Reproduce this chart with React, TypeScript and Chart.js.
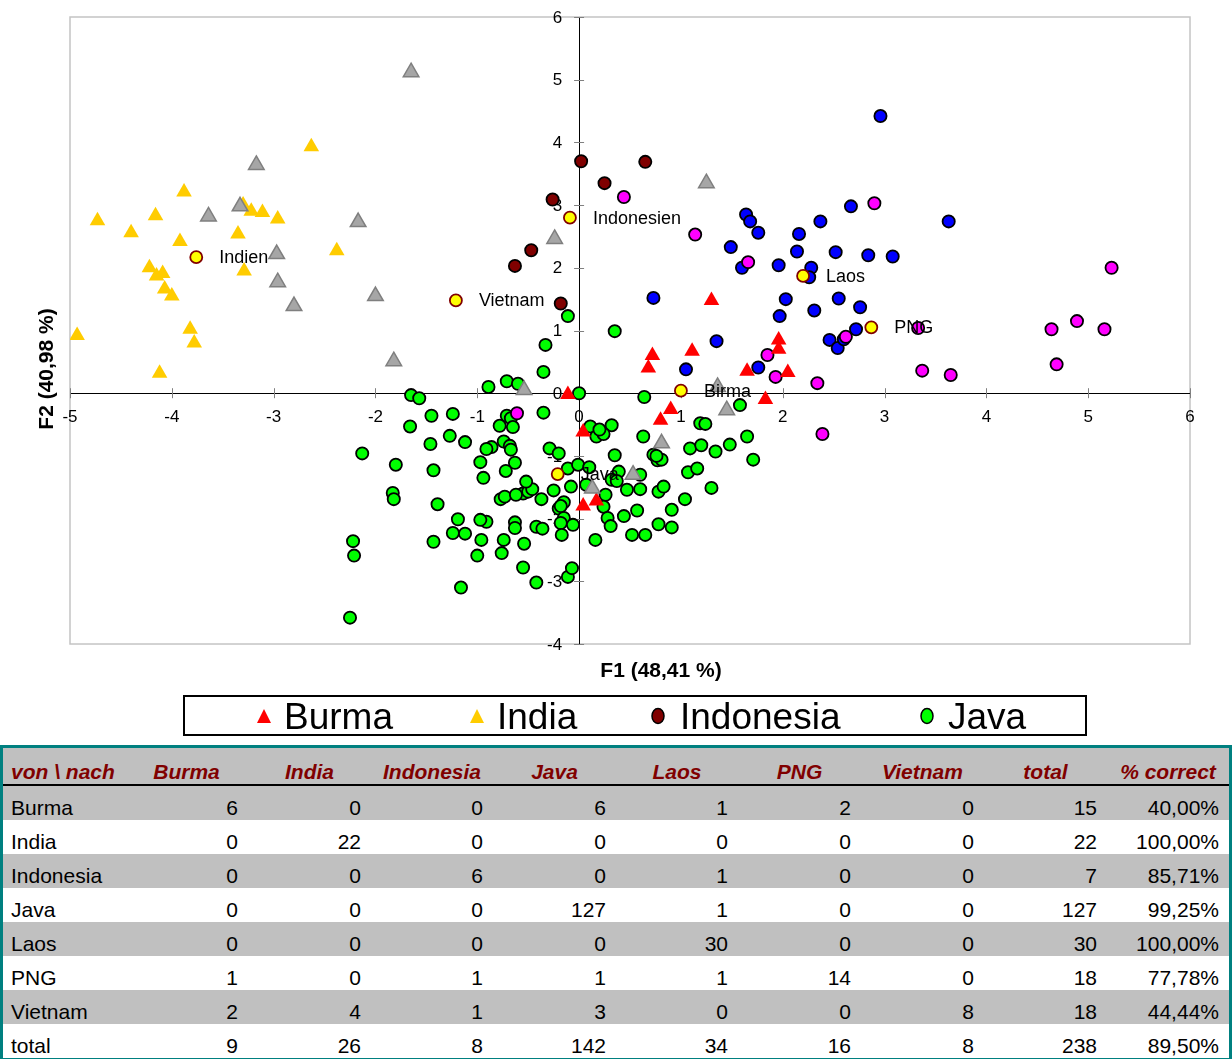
import React, { useEffect, useRef } from 'react';
import { Chart, registerables } from 'chart.js';

Chart.register(...registerables);

type Pt = [number, number];

const FONT = '"Liberation Sans", Arial, sans-serif';

// ---- scatter data (F1, F2) ----
const burma: Pt[] = [[1.30,1.48],[0.72,0.60],[0.68,0.40],[1.11,0.67],[1.96,0.85],[1.96,0.70],[1.65,0.35],[2.05,0.33],[1.83,-0.10],[0.90,-0.26],[0.80,-0.43],[-0.11,-0.02],[0.04,-0.62],[0.04,-1.80],[0.17,-1.72]];
const india: Pt[] = [[-2.63,3.93],[-3.88,3.21],[-4.73,2.75],[-4.16,2.83],[-4.40,2.56],[-3.92,2.42],[-3.35,2.54],[-3.30,3.00],[-3.22,2.90],[-3.11,2.88],[-2.96,2.78],[-2.38,2.27],[-3.29,1.95],[-4.22,2.00],[-4.15,1.87],[-4.09,1.91],[-4.07,1.66],[-4.00,1.55],[-4.93,0.92],[-3.82,1.02],[-3.78,0.80],[-4.12,0.32]];
const indonesia: Pt[] = [[0.02,3.70],[0.25,3.35],[-0.26,3.09],[-0.47,2.28],[-0.63,2.03],[-0.18,1.43],[0.65,3.69]];
const java: Pt[] = [[-0.33,0.77],[-0.35,0.34],[-0.71,0.19],[-0.60,0.15],[-0.89,0.10],[-1.65,-0.03],[-1.57,-0.08],[0.00,0.00],[0.64,-0.06],[-1.45,-0.36],[-1.24,-0.33],[-1.66,-0.53],[-0.35,-0.31],[-0.71,-0.36],[-0.67,-0.40],[-0.78,-0.52],[-0.65,-0.54],[-1.46,-0.81],[-1.27,-0.68],[-1.12,-0.78],[-0.74,-0.77],[-0.86,-0.86],[-0.91,-0.89],[-0.68,-0.84],[-0.67,-0.90],[-2.13,-0.96],[-1.80,-1.14],[-1.43,-1.23],[-0.97,-1.10],[-0.63,-1.11],[-0.94,-1.35],[-0.72,-1.24],[-0.29,-0.88],[-0.20,-0.96],[-0.11,-1.20],[-0.01,-1.14],[0.10,-1.18],[0.11,-0.53],[0.32,-0.51],[0.17,-0.69],[0.24,-0.65],[0.35,-0.99],[0.39,-1.25],[0.32,-1.38],[0.63,-0.69],[0.73,-0.98],[0.77,-1.07],[0.81,-1.06],[0.60,-1.30],[-1.83,-1.59],[-1.82,-1.69],[-1.39,-1.77],[-0.77,-1.69],[-0.73,-1.65],[-0.55,-1.60],[-0.50,-1.57],[-0.46,-1.53],[-0.52,-1.41],[-0.37,-1.69],[-0.25,-1.55],[-0.08,-1.49],[0.07,-1.46],[0.26,-1.62],[0.24,-1.81],[0.47,-1.54],[0.60,-1.53],[0.78,-1.57],[0.83,-1.49],[1.04,-1.69],[1.30,-1.51],[0.91,-1.86],[0.57,-1.87],[0.44,-1.96],[0.28,-1.99],[0.31,-2.12],[0.52,-2.26],[0.65,-2.26],[0.78,-2.09],[0.91,-2.14],[0.16,-2.34],[-0.15,-1.74],[-0.20,-1.84],[-0.15,-1.99],[-0.18,-2.07],[-0.06,-2.10],[-0.17,-2.26],[-0.42,-2.13],[-0.36,-2.16],[-0.63,-2.06],[-0.63,-2.15],[-0.91,-2.05],[-0.97,-2.02],[-1.19,-2.01],[-1.24,-2.23],[-1.12,-2.24],[-1.43,-2.37],[-0.96,-2.34],[-0.74,-2.34],[-0.54,-2.40],[-1.00,-2.59],[-0.76,-2.55],[-0.55,-2.78],[-0.42,-3.02],[-0.11,-2.93],[-0.07,-2.79],[-1.16,-3.10],[-2.22,-2.36],[-2.21,-2.59],[-2.25,-3.58],[1.19,-0.48],[1.24,-0.49],[1.09,-0.88],[1.20,-0.83],[1.34,-0.93],[1.48,-0.82],[1.65,-0.69],[1.71,-1.06],[1.07,-1.26],[1.16,-1.20],[1.58,-0.19],[-0.11,1.23],[0.35,0.99],[0.20,-0.58],[-0.62,-1.62],[0.37,-1.40],[0.76,-1.00],[-0.18,-1.80]];
const laos: Pt[] = [[2.96,4.42],[3.63,2.74],[2.67,2.98],[2.37,2.74],[1.64,2.85],[1.68,2.74],[1.76,2.56],[1.49,2.33],[2.16,2.54],[2.14,2.26],[2.52,2.25],[2.84,2.20],[3.08,2.18],[1.60,2.00],[1.96,2.04],[2.28,2.00],[2.26,1.85],[0.73,1.52],[2.03,1.50],[2.55,1.51],[2.31,1.32],[2.76,1.37],[1.97,1.23],[2.72,1.02],[2.46,0.85],[2.54,0.72],[1.35,0.83],[1.05,0.38],[1.76,0.41],[2.60,0.86]];
const png: Pt[] = [[0.44,3.13],[2.90,3.03],[1.14,2.53],[1.66,2.09],[5.23,2.00],[3.33,1.04],[2.62,0.90],[4.64,1.02],[4.89,1.15],[5.16,1.02],[1.85,0.61],[1.93,0.26],[2.34,0.16],[3.37,0.36],[3.65,0.29],[4.69,0.46],[2.39,-0.65],[-0.61,-0.32]];
const vietnam: Pt[] = [[-1.65,5.12],[-3.17,3.64],[-3.64,2.82],[-3.33,2.98],[-2.17,2.73],[-2.97,2.22],[-2.96,1.77],[-2.00,1.55],[-2.80,1.39],[-0.24,2.46],[-1.82,0.51],[-0.54,0.05],[1.45,-0.27],[1.36,0.10],[0.81,-0.80],[0.53,-1.30],[0.13,-1.52],[1.25,3.35]];
const centroidNames: string[] = ['Indien', 'Vietnam', 'Indonesien', 'Laos', 'PNG', 'Birma', 'Java'];
const centroids: Pt[] = [[-3.76,2.17],[-1.21,1.48],[-0.09,2.80],[2.20,1.87],[2.87,1.05],[1.00,0.04],[-0.21,-1.29]];

const xTickValues: number[] = [-5, -4, -3, -2, -1, 0, 1, 2, 3, 4, 5, 6];
const yTickValues: number[] = [-4, -3, -2, -1, 0, 1, 2, 3, 4, 5, 6];
const xTitle = 'F1 (48,41 %)';
const yTitle = 'F2 (40,98 %)';

const legendNames: string[] = ['Burma', 'India', 'Indonesia', 'Java'];

// ---- confusion table ----
const tableHeader: string[] = ['von \\ nach', 'Burma', 'India', 'Indonesia', 'Java', 'Laos', 'PNG', 'Vietnam', 'total', '% correct'];
const rowNames: string[] = ['Burma', 'India', 'Indonesia', 'Java', 'Laos', 'PNG', 'Vietnam', 'total'];
const rowBurma: number[] = [6, 0, 0, 6, 1, 2, 0, 15];
const rowIndia: number[] = [0, 22, 0, 0, 0, 0, 0, 22];
const rowIndonesia: number[] = [0, 0, 6, 0, 1, 0, 0, 7];
const rowJava: number[] = [0, 0, 0, 127, 1, 0, 0, 127];
const rowLaos: number[] = [0, 0, 0, 0, 30, 0, 0, 30];
const rowPNG: number[] = [1, 0, 1, 1, 1, 14, 0, 18];
const rowVietnam: number[] = [2, 4, 1, 3, 0, 0, 8, 18];
const rowTotal: number[] = [9, 26, 8, 142, 34, 16, 8, 238];
const pctCorrect: string[] = ['40,00%', '100,00%', '85,71%', '99,25%', '100,00%', '77,78%', '44,44%', '89,50%'];
const tableRows: number[][] = [rowBurma, rowIndia, rowIndonesia, rowJava, rowLaos, rowPNG, rowVietnam, rowTotal];

const colWidths = [122, 123, 123, 122, 123, 122, 123, 123, 123, 122];

const toXY = (a: Pt[]) => a.map(([x, y]) => ({ x, y }));

const overlayPlugin = {
  id: 'overlay',
  beforeDatasetsDraw(chart: any) {
    const { ctx, chartArea } = chart;
    const xs = chart.scales.x;
    const ys = chart.scales.y;
    const x0 = xs.getPixelForValue(0);
    const y0 = ys.getPixelForValue(0);
    ctx.save();
    ctx.strokeStyle = '#c4c4c4';
    ctx.lineWidth = 1.5;
    ctx.strokeRect(chartArea.left, chartArea.top, chartArea.right - chartArea.left, chartArea.bottom - chartArea.top);
    // axis lines
    ctx.strokeStyle = '#000';
    ctx.lineWidth = 1;
    ctx.beginPath();
    ctx.moveTo(chartArea.left, Math.round(y0) + 0.5);
    ctx.lineTo(chartArea.right, Math.round(y0) + 0.5);
    ctx.moveTo(Math.round(x0) + 0.5, chartArea.top);
    ctx.lineTo(Math.round(x0) + 0.5, chartArea.bottom);
    ctx.stroke();
    // crossing tick marks
    ctx.strokeStyle = '#808080';
    ctx.beginPath();
    xTickValues.forEach((v) => {
      const px = Math.round(xs.getPixelForValue(v)) + 0.5;
      ctx.moveTo(px, y0 - 5);
      ctx.lineTo(px, y0 + 5);
    });
    yTickValues.forEach((v) => {
      const py = Math.round(ys.getPixelForValue(v)) + 0.5;
      ctx.moveTo(x0 - 5, py);
      ctx.lineTo(x0 + 5, py);
    });
    ctx.stroke();
    // tick labels
    ctx.fillStyle = '#000';
    ctx.font = `17px ${FONT}`;
    ctx.textAlign = 'center';
    ctx.textBaseline = 'middle';
    xTickValues.forEach((v) => {
      ctx.fillText(String(v), xs.getPixelForValue(v), y0 + 24);
    });
    ctx.textAlign = 'right';
    yTickValues.forEach((v) => {
      ctx.fillText(String(v), x0 - 17, ys.getPixelForValue(v) + 1);
    });
    ctx.restore();
  },
  afterDatasetsDraw(chart: any) {
    const { ctx } = chart;
    const xs = chart.scales.x;
    const ys = chart.scales.y;
    ctx.save();
    ctx.fillStyle = '#000';
    ctx.font = `18px ${FONT}`;
    ctx.textAlign = 'left';
    ctx.textBaseline = 'middle';
    centroids.forEach(([x, y], i) => {
      ctx.fillText(centroidNames[i], xs.getPixelForValue(x) + 23, ys.getPixelForValue(y) + 1);
    });
    ctx.restore();
  },
  afterDraw(chart: any) {
    const { ctx } = chart;
    ctx.save();
    ctx.fillStyle = '#000';
    ctx.font = `bold 21px ${FONT}`;
    ctx.textAlign = 'center';
    ctx.textBaseline = 'middle';
    ctx.fillText(xTitle, 661, 671);
    ctx.translate(47, 369);
    ctx.rotate(-Math.PI / 2);
    ctx.fillText(yTitle, 0, 0);
    ctx.restore();
  },
};

function ChartCanvas() {
  const ref = useRef<HTMLCanvasElement | null>(null);
  useEffect(() => {
    if (!ref.current) return;
    const circle = (data: Pt[], color: string, label: string) => ({
      label,
      data: toXY(data),
      pointStyle: 'circle',
      pointRadius: 6.1,
      pointBackgroundColor: color,
      pointBorderColor: '#000',
      pointBorderWidth: 1.8,
      showLine: false,
    });
    const tri = (data: Pt[], color: string, border: string, bw: number, label: string) => ({
      label,
      data: toXY(data),
      pointStyle: 'triangle',
      pointRadius: 9,
      pointBackgroundColor: color,
      pointBorderColor: border,
      pointBorderWidth: bw,
      showLine: false,
    });
    const chart = new Chart(ref.current, {
      type: 'scatter',
      data: {
        datasets: [
          {
            label: 'Centroids',
            data: toXY(centroids),
            pointStyle: 'circle',
            pointRadius: 6,
            pointBackgroundColor: '#FFFF00',
            pointBorderColor: '#800000',
            pointBorderWidth: 1.8,
            showLine: false,
          },
          tri(vietnam, '#A6A6A6', '#7F7F7F', 1.5, 'Vietnam'),
          tri(burma, '#FF0000', '#FF0000', 0, 'Burma'),
          circle(png, '#FF00FF', 'PNG'),
          tri(india, '#FFCC00', '#FFCC00', 0, 'India'),
          circle(indonesia, '#800000', 'Indonesia'),
          circle(laos, '#0000FF', 'Laos'),
          circle(java, '#00FF00', 'Java'),
        ] as any,
      },
      options: {
        animation: false,
        responsive: false,
        events: [],
        layout: { padding: { left: 70, right: 42, top: 17, bottom: 56 } },
        plugins: { legend: { display: false }, tooltip: { enabled: false } },
        scales: {
          x: {
            type: 'linear',
            min: -5,
            max: 6,
            position: { y: 0 } as any,
            grid: { display: false },
            border: { display: false },
            ticks: { display: false, stepSize: 1 },
          },
          y: {
            type: 'linear',
            min: -4,
            max: 6,
            position: { x: 0 } as any,
            grid: { display: false },
            border: { display: false },
            ticks: { display: false, stepSize: 1 },
          },
        },
      } as any,
      plugins: [overlayPlugin],
    });
    return () => chart.destroy();
  }, []);
  return (
    <canvas
      ref={ref}
      width={1232}
      height={700}
      style={{ position: 'absolute', left: 0, top: 0, width: 1232, height: 700 }}
    />
  );
}

const legendColors = ['#FF0000', '#FFCC00', '#800000', '#00FF00'];
const legendMarkerX = [264, 477, 658, 927];
const legendTextX = [284, 497, 680, 948];

function Legend() {
  return (
    <>
      <div
        style={{
          position: 'absolute',
          left: 183,
          top: 695,
          width: 904,
          height: 41,
          boxSizing: 'border-box',
          border: '2px solid #000',
          background: '#fff',
        }}
      />
      {legendNames.map((name, i) => (
        <React.Fragment key={name}>
          <svg
            width={16}
            height={18}
            style={{ position: 'absolute', left: legendMarkerX[i] - 8, top: 716 - 9 }}
          >
            {i < 2 ? (
              <polygon points="8,2 15,16 1,16" fill={legendColors[i]} />
            ) : (
              <ellipse cx={8} cy={9} rx={6} ry={7.5} fill={legendColors[i]} stroke="#000" strokeWidth={1.5} />
            )}
          </svg>
          <span
            style={{
              position: 'absolute',
              left: legendTextX[i],
              top: 698,
              fontFamily: FONT,
              fontSize: 37,
              lineHeight: '37px',
              color: '#000',
              whiteSpace: 'nowrap',
            }}
          >
            {name}
          </span>
        </React.Fragment>
      ))}
    </>
  );
}

function Table() {
  const cellBase: React.CSSProperties = {
    boxSizing: 'border-box',
    display: 'flex',
    alignItems: 'flex-end',
    lineHeight: '24px',
    fontSize: 21,
    fontFamily: FONT,
    whiteSpace: 'nowrap',
    overflow: 'visible',
  };
  return (
    <div
      style={{
        position: 'absolute',
        left: 0,
        top: 745,
        width: 1232,
        boxSizing: 'border-box',
        border: '3px solid #008080',
        background: '#fff',
      }}
    >
      <div
        style={{
          display: 'flex',
          height: 36,
          background: '#C0C0C0',
          borderBottom: '2px solid #000',
        }}
      >
        {tableHeader.map((h, c) => (
          <div
            key={h}
            style={{
              ...cellBase,
              width: colWidths[c],
              height: 36,
              justifyContent: c === 0 ? 'flex-start' : 'center',
              paddingLeft: c === 0 ? 8 : 0,
              fontWeight: 'bold',
              fontStyle: 'italic',
              color: '#800000',
            }}
          >
            {h}
          </div>
        ))}
      </div>
      {rowNames.map((name, r) => (
        <div
          key={name}
          style={{ display: 'flex', height: 34, background: r % 2 === 0 ? '#C0C0C0' : '#FFFFFF' }}
        >
          <div style={{ ...cellBase, width: colWidths[0], height: 34, paddingLeft: 8, color: '#000' }}>{name}</div>
          {tableRows[r].map((v, c) => (
            <div
              key={c}
              style={{
                ...cellBase,
                width: colWidths[c + 1],
                height: 34,
                justifyContent: 'flex-end',
                paddingRight: 10,
                color: '#000',
              }}
            >
              {v}
            </div>
          ))}
          <div
            style={{
              ...cellBase,
              width: colWidths[9],
              height: 34,
              justifyContent: 'flex-end',
              paddingRight: 10,
              color: '#000',
            }}
          >
            {pctCorrect[r]}
          </div>
        </div>
      ))}
    </div>
  );
}

export default function App() {
  return (
    <div style={{ position: 'absolute', left: 0, top: 0, width: 1232, height: 1059, background: '#fff' }}>
      <ChartCanvas />
      <Legend />
      <Table />
    </div>
  );
}
